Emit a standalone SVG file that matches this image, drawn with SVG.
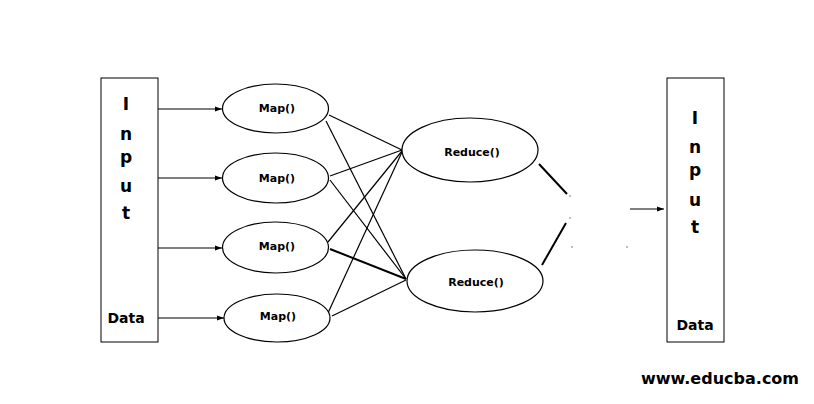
<svg xmlns="http://www.w3.org/2000/svg" width="814" height="404" viewBox="0 0 814 404">
<defs>
<marker id="ah" markerWidth="8" markerHeight="6" refX="7" refY="3" orient="auto" markerUnits="userSpaceOnUse">
<path d="M0,0.5 L7,3 L0,5.5 z" fill="#000"/>
</marker>
</defs>
<style>
.box{fill:#fff;stroke:#000;stroke-width:1}
.ell{fill:#fff;stroke:#000;stroke-width:1.2}
.t{font-family:"DejaVu Sans","Liberation Sans",sans-serif;font-weight:bold;fill:#000;text-anchor:middle}
.big{font-size:17px}
.lab{font-size:14px}
.sm{font-size:11px}
.ln{stroke:#000;stroke-width:1.2;fill:none}
.thk{stroke:#000;stroke-width:2;fill:none}
.arr{stroke:#000;stroke-width:1.2;fill:none;marker-end:url(#ah)}
</style>
<rect width="814" height="404" fill="#fff"/>
<g id="connectors">
<line class="arr" x1="158" y1="109" x2="222" y2="109"/>
<line class="arr" x1="158" y1="178" x2="222" y2="178"/>
<line class="arr" x1="158" y1="248" x2="222" y2="248"/>
<line class="arr" x1="158" y1="318" x2="224" y2="318"/>
<line class="ln" x1="329" y1="115" x2="402" y2="150"/>
<line class="ln" x1="326" y1="121" x2="406" y2="279"/>
<line class="ln" x1="330" y1="176" x2="402" y2="150"/>
<line class="ln" x1="330" y1="180" x2="406" y2="279"/>
<line class="ln" x1="328" y1="242" x2="402" y2="151"/>
<line class="thk" x1="330" y1="249" x2="406" y2="279"/>
<line class="ln" x1="328" y1="313" x2="402" y2="152"/>
<line class="ln" x1="332" y1="316" x2="406" y2="280"/>
<line class="thk" x1="539" y1="164" x2="567" y2="194"/>
<line class="thk" x1="542" y1="265" x2="566" y2="223"/>
<line class="arr" x1="630" y1="209" x2="664" y2="209"/>
<rect x="569.5" y="195.5" width="1" height="1" fill="#000"/>
<rect x="569.5" y="217.5" width="1" height="1" fill="#000"/>
<rect x="571.5" y="246.5" width="1" height="1" fill="#000"/>
<rect x="626.5" y="246.5" width="1" height="1" fill="#000"/>
</g>
<g id="input-left">
<rect class="box" x="101" y="78" width="57" height="264"/>
<text class="t big" x="126" y="110">I</text>
<text class="t big" x="126" y="140">n</text>
<text class="t big" x="126" y="163">p</text>
<text class="t big" x="126" y="192">u</text>
<text class="t big" x="126" y="219">t</text>
<text class="t lab" x="126" y="323">Data</text>
</g>
<g id="map1"><ellipse class="ell" cx="275.5" cy="108.5" rx="53" ry="24.5"/><text class="t sm" x="277" y="112">Map()</text></g>
<g id="map2"><ellipse class="ell" cx="275.5" cy="178" rx="53" ry="25"/><text class="t sm" x="277" y="182">Map()</text></g>
<g id="map3"><ellipse class="ell" cx="275.5" cy="247.5" rx="53" ry="25.5"/><text class="t sm" x="277" y="250">Map()</text></g>
<g id="map4"><ellipse class="ell" cx="277" cy="318" rx="53" ry="24"/><text class="t sm" x="278" y="320">Map()</text></g>
<g id="reduce1"><ellipse class="ell" cx="470" cy="150" rx="68" ry="32"/><text class="t sm" x="472" y="156">Reduce()</text></g>
<g id="reduce2"><ellipse class="ell" cx="475" cy="281" rx="68" ry="31"/><text class="t sm" x="476" y="286">Reduce()</text></g>
<g id="input-right">
<rect class="box" x="667" y="78" width="57" height="264"/>
<text class="t big" x="695" y="124">I</text>
<text class="t big" x="695" y="153">n</text>
<text class="t big" x="695" y="176">p</text>
<text class="t big" x="695" y="206">u</text>
<text class="t big" x="695" y="233">t</text>
<text class="t lab" x="695" y="330">Data</text>
</g>
<text class="t" x="720" y="384" font-size="16">www.educba.com</text>
</svg>
